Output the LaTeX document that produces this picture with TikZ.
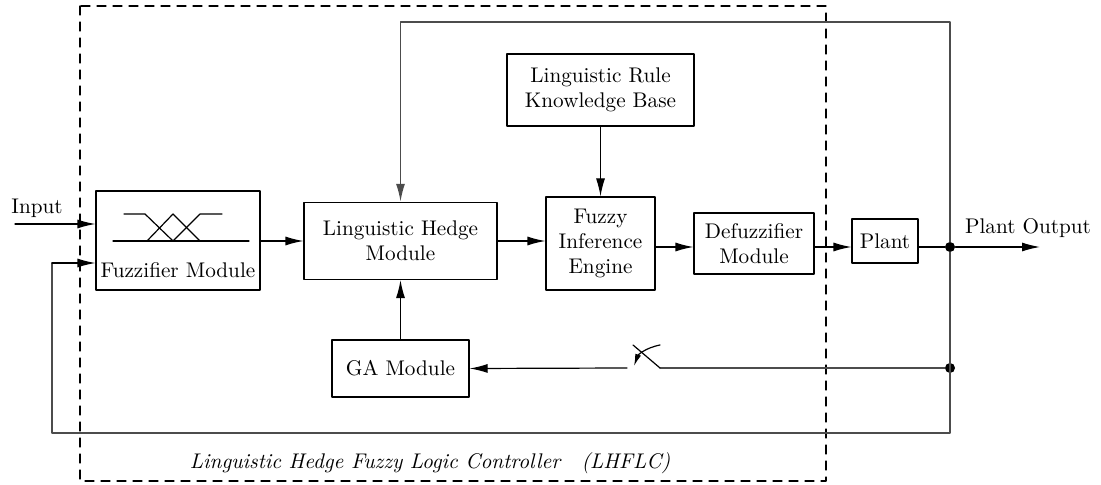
\documentclass[tikz,border=0pt]{standalone}
\usetikzlibrary{arrows.meta}

\tikzset{
  block/.style={draw, line width=0.6pt, align=center, inner sep=0pt},
  wire/.style={line width=0.6pt},
  loopwire/.style={line width=0.9pt, black!70},
  junction/.style={circle, fill, inner sep=0pt, minimum size=5pt},
}

\begin{document}
\begin{tikzpicture}[x=0.5pt, y=-0.5pt, >={Latex[length=9pt,width=4.5pt]}, line cap=round, line join=round,
    every node/.append style={font=\fontsize{10.6}{12.5}\selectfont}]
  \useasboundingbox (0,0) rectangle (1101,485);
  % Controller boundary.
  \draw[line width=0.6pt, dash pattern=on 4.5pt off 3.5pt] (80,6) rectangle (826,481);
  \node (lhflc) at (430,463) {\textit{Linguistic Hedge Fuzzy Logic Controller\quad(LHFLC)}};

  % Blocks.
  \node[block, minimum width=82pt, minimum height=49.5pt] (fuzz) at (178,240.5) {};
  \node (fuzzlbl) at (178,270) {Fuzzifier Module};
  \node[block, minimum width=96.5pt, minimum height=38.5pt] (lhm) at (400.5,241) {Linguistic Hedge\\Module};
  \node[block, minimum width=54.5pt, minimum height=46.5pt] (fie) at (600.5,243.5) {Fuzzy\\Inference\\Engine};
  \node[block, minimum width=60pt, minimum height=30.5pt] (defz) at (754,243.5) {Defuzzifier\\Module};
  \node[block, minimum width=33pt, minimum height=22pt] (plant) at (885,241) {Plant};
  \node[block, minimum width=93.5pt, minimum height=36pt] (lrkb) at (600.5,90) {Linguistic Rule\\Knowledge Base};
  \node[block, minimum width=68.5pt, minimum height=28.5pt] (ga) at (400.5,368.5) {GA Module};

  % Membership functions inside the fuzzifier.
  \draw[line width=0.6pt] (113,241) -- (249,241);
  \draw[line width=0.6pt] (124,214) -- (145,214) -- (173,241);
  \draw[line width=0.6pt] (147,241) -- (173,214) -- (200,241);
  \draw[line width=0.6pt] (173,241) -- (200,214) -- (222,214);

  % Junctions and turning points.
  \node[junction] (jout) at (950,247) {};
  \node[junction] (jga) at (950,368) {};
  \coordinate (topR) at (950,22);
  \coordinate (botR) at (950,433);
  \coordinate (botL) at (52,433);
  \coordinate (fbin) at (52,263);
  \coordinate (inp) at (15,224);
  \coordinate (pout) at (1040,247);
  \coordinate (swA) at (660,368);
  \coordinate (swB) at (627,368);

  % Forward path.
  \node (inlbl) at (37,208) {Input};
  \draw[wire, ->] (inp) -- (fuzz.west |- inp);
  \draw[wire, ->] (fuzz.east |- lhm.west) -- (lhm.west);
  \draw[wire, ->] (lhm.east) -- (fie.west |- lhm.east);
  \draw[wire, ->] (fie.east |- jout) -- (defz.west |- jout);
  \draw[wire, ->] (defz.east |- jout) -- (plant.west |- jout);
  \draw[wire] (plant.east |- jout) -- (jout);
  \draw[wire, ->] (jout) -- (pout);
  \node (poutlbl) at (1028,228) {Plant Output};
  \draw[wire, ->] (lrkb.south) -- (fie.north);
  \draw[wire, ->] (ga.north) -- (lhm.south);

  % Feedback loops.
  \draw[loopwire, ->] (jout) -- (topR) -- (topR -| lhm.north) -- (lhm.north);
  \draw[loopwire] (jout) -- (botR) -- (botL) -- (fbin);
  \draw[wire, ->] (fbin) -- (fuzz.west |- fbin);

  % Switch on the GA path.
  \draw[loopwire] (jga) -- (swA);
  \draw[wire] (swA) -- (633,345);
  \draw[wire, -{Latex[length=6pt,width=3pt]}] (660,345) .. controls (645,348) and (638,355) .. (634,366);
  \draw[wire, ->] (swB) -- (ga.east);
\end{tikzpicture}
\end{document}
